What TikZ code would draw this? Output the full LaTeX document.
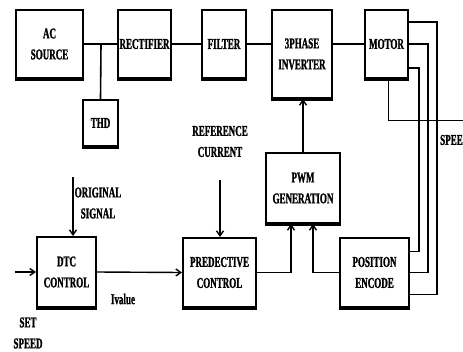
\documentclass[tikz,border=0pt]{standalone}
\usepackage{fontspec}
\newfontfamily\lblfont[FakeStretch=0.6,FakeBold=1.2,UprightFont={* Bold}]{Liberation Serif}
\usetikzlibrary{arrows.meta,calc}
\begin{document}
\begin{tikzpicture}[x=1pt,y=-1pt,
  blk/.style={draw, line width=2pt, align=center, inner sep=0pt,
    font=\lblfont\fontsize{15}{21}\selectfont},
  lbl/.style={align=center, inner sep=0pt,
    font=\lblfont\fontsize{15}{21}\selectfont},
  conn/.style={line width=2.2pt},
  wire/.style={line width=1.4pt},
  arr/.style={line width=1.4pt, -{Straight Barb[length=5pt,width=7pt]}}]
\fill[white] (0,0) rectangle (463,351);
\useasboundingbox (0,0) rectangle (463,351);
% blocks
\node[blk, minimum width=67, minimum height=68] (ac) at (49.5,44) {AC\\SOURCE};
\node[blk, minimum width=53, minimum height=68] (rect) at (144.5,44) {RECTIFIER};
\node[blk, minimum width=44, minimum height=68] (filt) at (224,44) {FILTER};
\node[blk, minimum width=60, minimum height=88] (inv) at (302,54) {3PHASE\\INVERTER};
\node[blk, minimum width=43, minimum height=68] (mot) at (386.5,44) {MOTOR};
\node[blk, minimum width=35, minimum height=46] (thd) at (100.5,123) {THD};
\node[blk, minimum width=74, minimum height=70] (pwm) at (303,188) {PWM\\GENERATION};
\node[blk, minimum width=69, minimum height=69] (enc) at (374.5,272.5) {POSITION\\ENCODE};
\node[blk, minimum width=73, minimum height=69] (pred) at (219.5,272.5) {PREDECTIVE\\CONTROL};
\node[blk, minimum width=59, minimum height=70] (dtc) at (66.5,272) {DTC\\CONTROL};
\foreach \n in {ac,rect,filt,inv,mot,thd,pwm,pred,enc,dtc}
  \draw[line width=2.4pt] ([yshift=-0.5pt]\n.south west) -- ([yshift=-0.5pt]\n.south east);
% labels
\node[lbl] (oslbl) at (98,203) {ORIGINAL\\SIGNAL};
\node[lbl] (rclbl) at (220,141.5) {REFERENCE\\CURRENT};
\node[lbl] (ival) at (123,299) {Ivalue};
\node[lbl] (sslbl) at (28,333) {SET\\SPEED};
\node[lbl, anchor=west] (spdlbl) at (440,140) {SPEED};
% power chain
\coordinate (j) at (101,44);
\draw[conn] (ac.east) -- (rect.west);
\draw[line width=1.6pt] (j) -- (thd.north);
\draw[conn] (rect.east) -- (filt.west);
\draw[conn] (filt.east) -- (filt.east -| inv.west);
\draw[conn] (mot.west -| inv.east) -- (mot.west);
% motor feedback
\draw[wire] ($(mot.east)+(0,-22)$) -| ($(enc.east)+(27,22)$) -- ($(enc.east)+(0,22)$);
\draw[wire] (mot.east) -| ($(enc.east)+(18,0)$) -- (enc.east);
\draw[wire] ($(mot.east)+(0,24)$) -| ($(enc.east)+(9,-21)$) -- ($(enc.east)+(0,-21)$);
\coordinate (spd) at (463,120);
\draw[line width=1pt] ($(mot.south)+(1.5,0)$) |- (spd);
% control
\draw[arr] (pwm.north) -- (pwm.north |- inv.south);
\draw[arr] (pred.east) -| ($(pwm.south)+(-12,0)$);
\draw[arr] (enc.west) -| ($(pwm.south)+(10,0)$);
\draw[arr] (dtc.east) -- (pred.west);
\coordinate (ss) at (15,272);
\draw[arr] (ss) -- (dtc.west);
\coordinate (os) at (73,177);
\draw[arr] (os) -- (os |- dtc.north);
\coordinate (rc) at (220,180);
\draw[arr] (rc) -- (rc |- pred.north);
\end{tikzpicture}
\end{document}
